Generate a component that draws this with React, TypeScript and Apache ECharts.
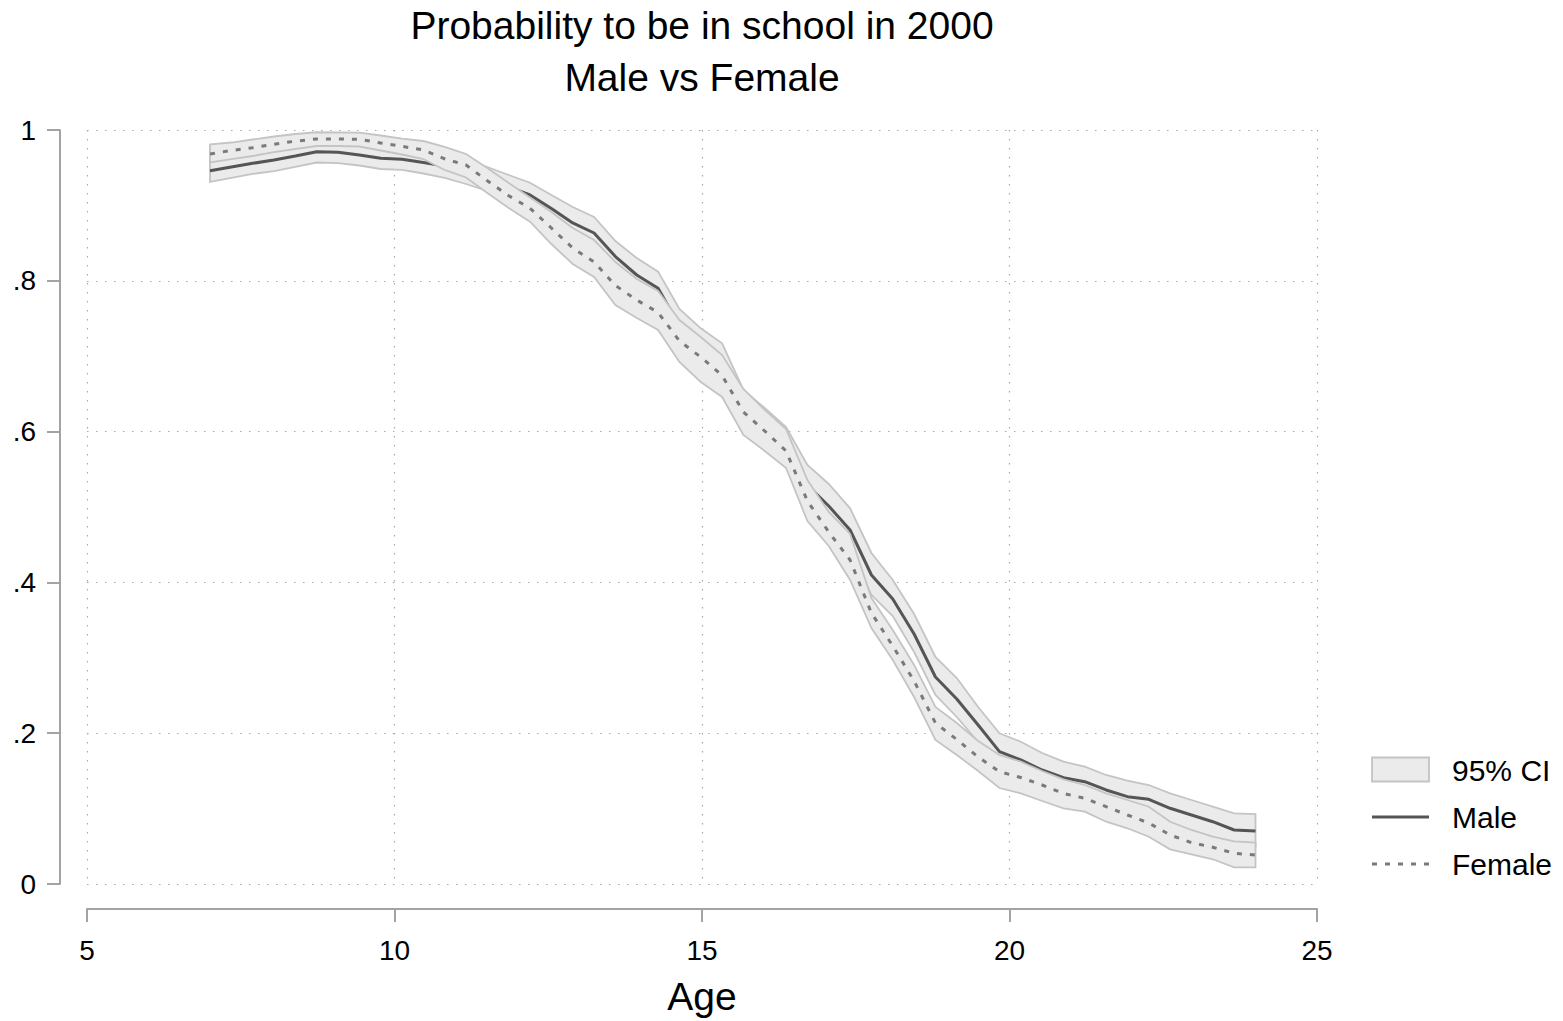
import React, { useEffect, useRef } from "react";
import * as echarts from "echarts";

const ages = [7, 7.347, 7.694, 8.041, 8.388, 8.735, 9.082, 9.429, 9.776, 10.122, 10.469, 10.816, 11.163, 11.51, 11.857, 12.204, 12.551, 12.898, 13.245, 13.592, 13.939, 14.286, 14.633, 14.98, 15.327, 15.673, 16.02, 16.367, 16.714, 17.061, 17.408, 17.755, 18.102, 18.449, 18.796, 19.143, 19.49, 19.837, 20.184, 20.531, 20.878, 21.224, 21.571, 21.918, 22.265, 22.612, 22.959, 23.306, 23.653, 24];

const maleFit = [0.946, 0.951, 0.9558, 0.9602, 0.9655, 0.9712, 0.9704, 0.9669, 0.9625, 0.9613, 0.9569, 0.9523, 0.9443, 0.935, 0.9244, 0.9138, 0.8958, 0.8767, 0.8634, 0.8322, 0.8077, 0.7901, 0.7401, 0.7135, 0.6923, 0.63, 0.6048, 0.5809, 0.5292, 0.5013, 0.4695, 0.4098, 0.378, 0.3316, 0.2745, 0.2454, 0.2109, 0.1755, 0.1645, 0.1512, 0.141, 0.1357, 0.1247, 0.1158, 0.1123, 0.1004, 0.0915, 0.0826, 0.0716, 0.0703];
const maleHi = [0.9609, 0.9655, 0.9702, 0.9748, 0.9801, 0.9854, 0.9848, 0.9814, 0.9768, 0.9761, 0.9721, 0.9682, 0.9602, 0.9509, 0.9403, 0.9301, 0.9138, 0.8979, 0.8846, 0.8528, 0.8302, 0.8121, 0.7626, 0.737, 0.7171, 0.6552, 0.6313, 0.6061, 0.5557, 0.5305, 0.4983, 0.439, 0.4032, 0.3581, 0.3011, 0.2732, 0.2348, 0.1999, 0.1887, 0.1737, 0.1622, 0.1556, 0.1446, 0.137, 0.1313, 0.1203, 0.1114, 0.1025, 0.0938, 0.0928];
const maleLo = [0.9311, 0.9364, 0.9417, 0.9456, 0.951, 0.9569, 0.9562, 0.9529, 0.9483, 0.947, 0.9423, 0.9364, 0.9284, 0.9191, 0.9072, 0.8966, 0.8767, 0.8555, 0.8422, 0.8117, 0.7851, 0.7679, 0.7149, 0.6883, 0.6671, 0.6048, 0.5783, 0.5557, 0.5027, 0.4735, 0.4416, 0.3833, 0.3554, 0.3077, 0.2507, 0.2215, 0.1883, 0.1512, 0.1406, 0.1286, 0.1194, 0.1154, 0.1048, 0.0955, 0.0928, 0.0809, 0.0716, 0.0627, 0.0504, 0.0477];

const femaleFit = [0.9682, 0.9728, 0.9765, 0.9812, 0.9852, 0.9881, 0.988, 0.9877, 0.9828, 0.9783, 0.9735, 0.9618, 0.9536, 0.9326, 0.9129, 0.8962, 0.87, 0.8435, 0.8249, 0.7938, 0.7745, 0.758, 0.7202, 0.6989, 0.6744, 0.626, 0.6008, 0.5743, 0.508, 0.4668, 0.4297, 0.3594, 0.3157, 0.2692, 0.2135, 0.1916, 0.1684, 0.1489, 0.1412, 0.1313, 0.12, 0.1137, 0.1025, 0.0915, 0.0809, 0.065, 0.0548, 0.0487, 0.0407, 0.0385];
const femaleHi = [0.9808, 0.9834, 0.9874, 0.9914, 0.9947, 0.997, 0.9967, 0.9966, 0.9927, 0.9887, 0.9854, 0.9775, 0.9682, 0.9496, 0.9297, 0.9105, 0.8912, 0.87, 0.8541, 0.8249, 0.8024, 0.7865, 0.748, 0.7255, 0.7016, 0.6565, 0.6287, 0.6035, 0.5358, 0.4934, 0.4642, 0.3793, 0.3369, 0.2905, 0.2348, 0.2135, 0.1897, 0.1711, 0.1622, 0.1499, 0.1389, 0.1313, 0.1203, 0.1114, 0.1025, 0.0826, 0.0716, 0.0627, 0.0564, 0.055];
const femaleLo = [0.9569, 0.9615, 0.9655, 0.9708, 0.9748, 0.9788, 0.9788, 0.9781, 0.9728, 0.9675, 0.9615, 0.947, 0.937, 0.9165, 0.8966, 0.8784, 0.8488, 0.8223, 0.805, 0.7679, 0.7507, 0.7348, 0.6923, 0.6658, 0.6459, 0.5955, 0.5743, 0.5517, 0.4814, 0.4483, 0.4032, 0.3395, 0.2971, 0.248, 0.191, 0.1711, 0.1499, 0.1273, 0.1203, 0.1101, 0.1004, 0.0959, 0.0826, 0.0739, 0.0627, 0.046, 0.0394, 0.0328, 0.0221, 0.0221];

const titleLines = ["Probability to be in school in 2000", "Male vs Female"];
const legendLabels = ["95% CI", "Male", "Female"];
const xAxisTitle = "Age";

const FONT = "'Liberation Sans', Arial, Helvetica, sans-serif";
const AXIS_GREY = "#a3a3a3";
const GRID_GREY = "#a8a8a8";
const BAND_FILL = "#ebebeb";
const BAND_STROKE = "#c4c4c4";
const MALE_COLOR = "#555555";
const FEMALE_COLOR = "#7a7a7a";

function bandSeries(name: string, lo: number[], hi: number[], z: number) {
  return {
    type: "custom",
    name,
    z,
    silent: true,
    clip: false,
    data: ages.map((a, i) => [a, lo[i], hi[i]]),
    encode: { x: 0, y: [1, 2] },
    renderItem: (params: any, api: any) => {
      if (params.dataIndex !== 0) return null;
      const pts: number[][] = [];
      for (let i = 0; i < ages.length; i++) pts.push(api.coord([ages[i], hi[i]]));
      for (let i = ages.length - 1; i >= 0; i--) pts.push(api.coord([ages[i], lo[i]]));
      return {
        type: "polygon",
        shape: { points: pts },
        style: { fill: BAND_FILL, stroke: BAND_STROKE, lineWidth: 1.8 },
      };
    },
  };
}

function fmtY(v: number) {
  const r = Math.round(v * 10) / 10;
  if (r === 0) return "0";
  if (r === 1) return "1";
  return String(r).replace(/^0/, "");
}

export default function App() {
  const ref = useRef<HTMLDivElement>(null);
  useEffect(() => {
    if (!ref.current) return;
    const chart = echarts.init(ref.current, null, { renderer: "svg" });
    const axisCommon = {
      axisLine: { show: true, onZero: false, lineStyle: { color: AXIS_GREY, width: 2 } },
      axisTick: { show: true, length: 13, lineStyle: { color: AXIS_GREY, width: 2 } },
      splitLine: { show: true, lineStyle: { color: GRID_GREY, width: 1.2, type: [1.5, 7.5] } },
    };
    chart.setOption({
      animation: false,
      backgroundColor: "#ffffff",
      textStyle: { fontFamily: FONT },
      grid: { left: 87, right: 246, top: 130, bottom: 137 },
      xAxis: {
        type: "value",
        min: 5,
        max: 25,
        interval: 5,
        offset: 25,
        name: xAxisTitle,
        nameLocation: "middle",
        nameGap: 68,
        nameTextStyle: { fontSize: 39, color: "#000", fontFamily: FONT },
        axisLabel: { fontSize: 28, color: "#000", margin: 27, fontFamily: FONT },
        ...axisCommon,
      },
      yAxis: {
        type: "value",
        min: 0,
        max: 1,
        interval: 0.2,
        offset: 27,
        axisLabel: { fontSize: 28, color: "#000", margin: 24, fontFamily: FONT, formatter: fmtY },
        ...axisCommon,
      },
      series: [
        bandSeries("95% CI male", maleLo, maleHi, 1),
        {
          type: "line",
          name: "Male",
          z: 2,
          data: ages.map((a, i) => [a, maleFit[i]]),
          symbol: "none",
          showSymbol: false,
          lineStyle: { color: MALE_COLOR, width: 3 },
        },
        bandSeries("95% CI female", femaleLo, femaleHi, 3),
        {
          type: "line",
          name: "Female",
          z: 4,
          data: ages.map((a, i) => [a, femaleFit[i]]),
          symbol: "none",
          showSymbol: false,
          lineStyle: { color: FEMALE_COLOR, width: 3, type: [5, 8] },
        },
      ],
      graphic: [
        {
          type: "text",
          x: 702,
          y: 25,
          style: { text: titleLines[0], fontSize: 39, fill: "#000", font: `39px ${FONT}`, textAlign: "center", textVerticalAlign: "middle" },
        },
        {
          type: "text",
          x: 702,
          y: 77,
          style: { text: titleLines[1], fontSize: 39, fill: "#000", font: `39px ${FONT}`, textAlign: "center", textVerticalAlign: "middle" },
        },
        {
          type: "rect",
          shape: { x: 1372, y: 757.5, width: 57, height: 24 },
          style: { fill: BAND_FILL, stroke: BAND_STROKE, lineWidth: 1.8 },
        },
        {
          type: "line",
          shape: { x1: 1372, y1: 817, x2: 1429, y2: 817 },
          style: { stroke: MALE_COLOR, lineWidth: 3 },
        },
        {
          type: "line",
          shape: { x1: 1372, y1: 864, x2: 1429, y2: 864 },
          style: { stroke: FEMALE_COLOR, lineWidth: 3, lineDash: [5, 8] },
        },
        {
          type: "text",
          x: 1452,
          y: 770,
          style: { text: legendLabels[0], font: `30px ${FONT}`, fill: "#000", textVerticalAlign: "middle" },
        },
        {
          type: "text",
          x: 1452,
          y: 817,
          style: { text: legendLabels[1], font: `30px ${FONT}`, fill: "#000", textVerticalAlign: "middle" },
        },
        {
          type: "text",
          x: 1452,
          y: 864,
          style: { text: legendLabels[2], font: `30px ${FONT}`, fill: "#000", textVerticalAlign: "middle" },
        },
      ],
    });
    return () => chart.dispose();
  }, []);
  return (
    <div
      ref={ref}
      style={{ position: "fixed", left: 0, top: 0, width: 1563, height: 1021, background: "#fff" }}
    />
  );
}
